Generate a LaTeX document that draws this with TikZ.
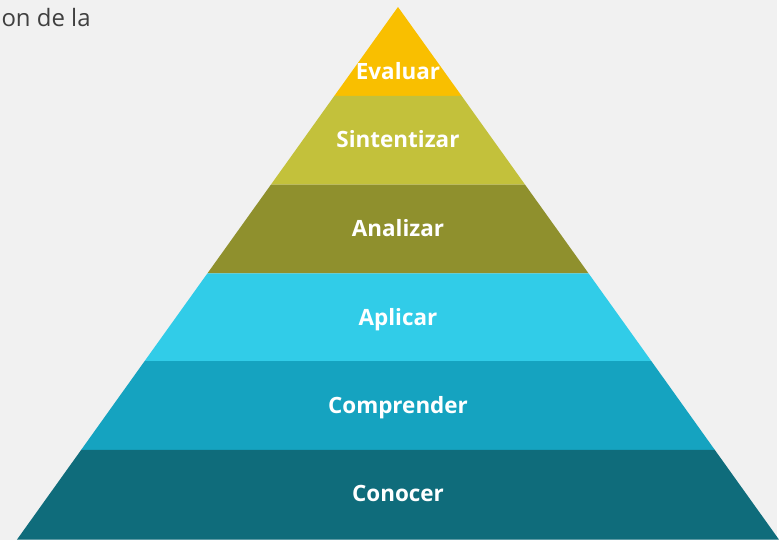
\documentclass[tikz,border=0pt]{standalone}
\usepackage{fontspec}
\setmainfont{Open Sans}
\definecolor{bgGray}{HTML}{F1F1F1}
\definecolor{titleGray}{HTML}{404040}
\definecolor{cEvaluar}{HTML}{F9BF00}
\definecolor{cSintetizar}{HTML}{C3C13B}
\definecolor{cAnalizar}{HTML}{8F902D}
\definecolor{cAplicar}{HTML}{31CCE8}
\definecolor{cComprender}{HTML}{15A3C0}
\definecolor{cConocer}{HTML}{0F6C7B}

\begin{document}
\begin{tikzpicture}[x=1pt,y=-1pt]
      \tikzstyle{level}=[font=\bfseries\fontsize{22.5}{26}\selectfont,text=white,inner sep=0pt,anchor=base]
      \tikzstyle{title}=[font=\fontsize{24}{28}\selectfont,text=titleGray,inner sep=0pt]
      \fill[bgGray] (0,0) rectangle (779,541);
      \node[title,anchor=base east] (heading) at (91,27) {on de la};
      \foreach \ytop/\wtop/\ybot/\wbot/\col/\name/\ty/\txt in {
          7/0/96/63.7/cEvaluar/evaluar/80/Evaluar,
          96/63.7/185/127.3/cSintetizar/sintetizar/148/Sintentizar,
          185/127.3/274/191.0/cAnalizar/analizar/237/Analizar,
          274/191.0/362/254.0/cAplicar/aplicar/326/Aplicar,
          362/254.0/451/317.6/cComprender/comprender/415/Comprender,
          451/317.6/541/382/cConocer/conocer/503/Conocer}
      {
        \fill[\col] ({399-\wtop},\ytop) -- ({399+\wtop},\ytop) -- ({399+\wbot},\ybot) -- ({399-\wbot},\ybot) -- cycle;
        \node[level] (\name) at (399,\ty) {\txt};
      }
\end{tikzpicture}
\end{document}
